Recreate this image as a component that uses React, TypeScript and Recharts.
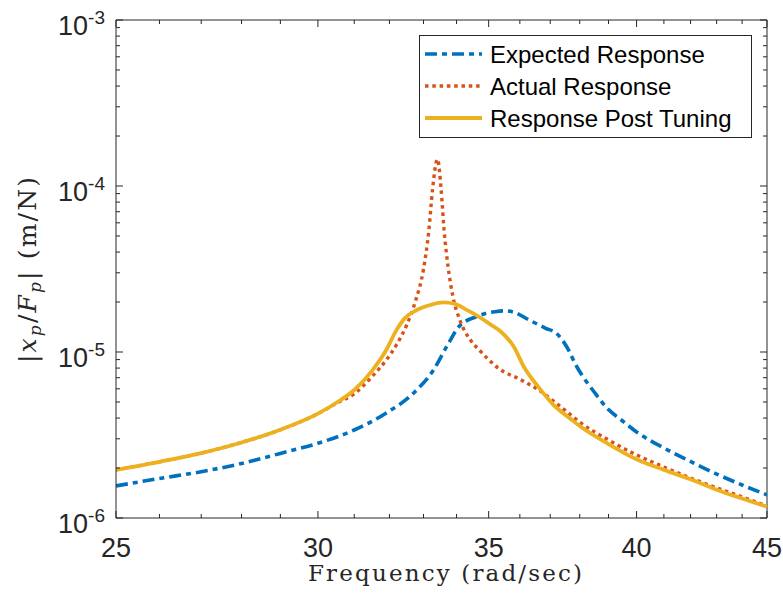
import { LineChart, Line, XAxis, YAxis, Legend, ReferenceLine } from "recharts";

// Expected Response (blue, dash-dot)
const freqExpected = [25, 26, 27, 28, 29, 30, 31, 31.9, 32.7, 33.3, 33.7, 34.07, 34.6, 35.2, 35.5, 35.8, 36.3, 36.85, 37.2, 37.55, 37.9, 38.5, 39, 39.5, 40, 41, 42, 43, 44, 45];
const magExpected = [1.56e-6, 1.73e-6, 1.9e-6, 2.13e-6, 2.45e-6, 2.82e-6, 3.39e-6, 4.28e-6, 5.64e-6, 7.8e-6, 1.08e-5, 1.42e-5, 1.63e-5, 1.75e-5, 1.77e-5, 1.74e-5, 1.56e-5, 1.39e-5, 1.3e-5, 1.08e-5, 8.15e-6, 5.74e-6, 4.5e-6, 3.84e-6, 3.3e-6, 2.64e-6, 2.19e-6, 1.84e-6, 1.58e-6, 1.38e-6];

// Actual Response (orange, dotted)
const freqActual = [25, 26, 27, 28, 29, 30, 30.5, 31, 31.5, 31.9, 32.2, 32.5, 32.77, 33.0, 33.16, 33.27, 33.42, 33.53, 33.62, 33.74, 33.89, 34.1, 34.43, 34.7, 35.0, 35.3, 36.0, 36.7, 37.0, 37.7, 38, 39, 40, 41, 42, 43, 44, 45];
const magActual = [1.95e-6, 2.18e-6, 2.46e-6, 2.85e-6, 3.4e-6, 4.25e-6, 4.9e-6, 5.6e-6, 7.1e-6, 8.9e-6, 1.1e-5, 1.45e-5, 2.05e-5, 3.15e-5, 5.4e-5, 9.5e-5, 1.45e-4, 9.5e-5, 5.4e-5, 3.27e-5, 2.15e-5, 1.56e-5, 1.18e-5, 1.03e-5, 9.0e-6, 8.0e-6, 6.85e-6, 5.77e-6, 5.25e-6, 4.17e-6, 3.78e-6, 2.95e-6, 2.4e-6, 2.03e-6, 1.74e-6, 1.52e-6, 1.34e-6, 1.18e-6];

// Response Post Tuning (yellow, solid)
const freqTuned = [25, 26, 27, 28, 29, 30, 30.6, 31, 31.5, 31.9, 32.2, 32.45, 32.8, 33.2, 33.6, 33.95, 34.3, 34.7, 35.0, 35.4, 35.8, 36.13, 36.6, 37.1, 37.7, 38, 39, 40, 41, 42, 43, 44, 45];
const magTuned = [1.95e-6, 2.18e-6, 2.46e-6, 2.85e-6, 3.4e-6, 4.25e-6, 5.1e-6, 5.9e-6, 7.7e-6, 1.02e-5, 1.35e-5, 1.6e-5, 1.79e-5, 1.92e-5, 1.99e-5, 1.95e-5, 1.8e-5, 1.63e-5, 1.49e-5, 1.32e-5, 1.08e-5, 8.15e-6, 6.18e-6, 4.82e-6, 3.94e-6, 3.58e-6, 2.79e-6, 2.26e-6, 1.95e-6, 1.71e-6, 1.48e-6, 1.31e-6, 1.17e-6];

const xTicks = [25, 26, 27, 28, 29, 30, 31, 32, 33, 34, 35, 36, 37, 38, 39, 40, 41, 42, 43, 44, 45];
const xLabels = [25, 30, 35, 40, 45];
const yTicks = [
  1e-6, 2e-6, 3e-6, 4e-6, 5e-6, 6e-6, 7e-6, 8e-6, 9e-6,
  1e-5, 2e-5, 3e-5, 4e-5, 5e-5, 6e-5, 7e-5, 8e-5, 9e-5,
  1e-4, 2e-4, 3e-4, 4e-4, 5e-4, 6e-4, 7e-4, 8e-4, 9e-4,
  1e-3,
];
const yLabels: Record<string, string> = { "0.000001": "-6", "0.00001": "-5", "0.0001": "-4", "0.001": "-3" };

const SERIES = [
  { name: "Expected Response", color: "#0072BD", dash: "12 5 5 5", width: 3.6 },
  { name: "Actual Response", color: "#D95319", dash: "3.5 3.8", width: 3.4 },
  { name: "Response Post Tuning", color: "#EDB120", dash: undefined, width: 3.8 },
];

// chart covers the whole 783x601 window (placed at 0,0, past the body margin)
const W = 783;
const H = 601;
const MARGIN = { top: 20, right: 16, bottom: 53, left: 56 };
const PLOT_W = W - MARGIN.left - 60 - MARGIN.right;
const PLOT_H = H - MARGIN.top - MARGIN.bottom - 30;
const AXIS = "#262626";
const SANS = "'Liberation Sans', Arial, Helvetica, sans-serif";
const SERIF = "'DejaVu Serif', serif";

const toPoints = (fs: number[], vs: number[]) => fs.map((f, i) => ({ f, v: vs[i] }));

const XTick = (props: any) => {
  const { x, y, payload } = props;
  const major = xLabels.includes(payload.value);
  const len = major ? 7 : 4;
  return (
    <g>
      <line x1={x} x2={x} y1={y} y2={y - len} stroke={AXIS} />
      <line x1={x} x2={x} y1={y - PLOT_H} y2={y - PLOT_H + len} stroke={AXIS} />
      {major && (
        <text x={x} y={y + 39} textAnchor="middle" fontFamily={SANS} fontSize={27} fill={AXIS}>
          {payload.value}
        </text>
      )}
    </g>
  );
};

const YTick = (props: any) => {
  const { x, y, payload } = props;
  const exp = yLabels[String(payload.value)];
  const len = exp ? 7 : 4;
  return (
    <g>
      <line x1={x} x2={x + len} y1={y} y2={y} stroke={AXIS} />
      <line x1={x + PLOT_W} x2={x + PLOT_W - len} y1={y} y2={y} stroke={AXIS} />
      {exp && (
        <text x={x - 11} y={y + 15} textAnchor="end" fontFamily={SANS} fontSize={27} fill={AXIS}>
          10
          <tspan dy={-11} fontSize={19}>{exp}</tspan>
        </text>
      )}
    </g>
  );
};

const LegendBox = () => (
  <svg width={333} height={103} style={{ display: "block" }}>
    <rect x={0.5} y={0.5} width={332} height={102} fill="#fff" stroke={AXIS} strokeWidth={1} />
    {SERIES.map((s, i) => {
      const cy = 19 + i * 32;
      return (
        <g key={s.name}>
          <line x1={6} x2={63} y1={cy} y2={cy} stroke={s.color} strokeWidth={s.width} strokeDasharray={s.dash} />
          <text x={71} y={cy + 8.5} fontFamily={SANS} fontSize={24} fill="#000">
            {s.name}
          </text>
        </g>
      );
    })}
  </svg>
);

export default function App() {
  return (
    <div style={{ position: "absolute", left: 0, top: 0, width: W, height: H }}>
      <LineChart width={W} height={H} margin={MARGIN}>
        <XAxis
          dataKey="f"
          type="number"
          scale="log"
          domain={[25, 45]}
          allowDataOverflow
          ticks={xTicks}
          interval={0}
          tickSize={0}
          tickMargin={0}
          tickLine={false}
          tick={<XTick />}
          stroke={AXIS}
          height={30}
          label={{
            content: () => (
              <text x={445} y={581} textAnchor="middle" fontFamily={SERIF} fontSize={23} fill={AXIS} textLength={274} lengthAdjust="spacing">
                Frequency (rad/sec)
              </text>
            ),
          }}
        />
        <YAxis
          dataKey="v"
          type="number"
          scale="log"
          domain={[1e-6, 1e-3]}
          allowDataOverflow
          ticks={yTicks}
          interval={0}
          tickSize={0}
          tickMargin={0}
          tickLine={false}
          tick={<YTick />}
          stroke={AXIS}
          width={60}
          label={{
            content: () => (
              <text transform="translate(36, 270) rotate(-90)" textAnchor="middle" fontFamily={SERIF} fontSize={25} fill={AXIS} textLength={186} lengthAdjust="spacing">
                |<tspan fontStyle="italic">x</tspan>
                <tspan fontStyle="italic" fontSize={17} dy={5}>p</tspan>
                <tspan dy={-5}>/</tspan>
                <tspan fontStyle="italic">F</tspan>
                <tspan fontStyle="italic" fontSize={17} dy={5}>p</tspan>
                <tspan dy={-5}>|  (m/N)</tspan>
              </text>
            ),
          }}
        />
        <ReferenceLine y={1e-3} stroke={AXIS} />
        <ReferenceLine x={45} stroke={AXIS} />
        <Line
          data={toPoints(freqExpected, magExpected)}
          dataKey="v"
          name={SERIES[0].name}
          type="monotone"
          stroke={SERIES[0].color}
          strokeWidth={SERIES[0].width}
          strokeDasharray={SERIES[0].dash}
          dot={false}
          isAnimationActive={false}
        />
        <Line
          data={toPoints(freqActual, magActual)}
          dataKey="v"
          name={SERIES[1].name}
          type="monotone"
          stroke={SERIES[1].color}
          strokeWidth={SERIES[1].width}
          strokeDasharray={SERIES[1].dash}
          dot={false}
          isAnimationActive={false}
        />
        <Line
          data={toPoints(freqTuned, magTuned)}
          dataKey="v"
          name={SERIES[2].name}
          type="monotone"
          stroke={SERIES[2].color}
          strokeWidth={SERIES[2].width}
          dot={false}
          isAnimationActive={false}
        />
        <Legend
          layout="vertical"
          align="center"
          verticalAlign="middle"
          content={<LegendBox />}
          wrapperStyle={{ left: 419, top: 35, width: 333, height: 103 }}
        />
      </LineChart>
    </div>
  );
}
